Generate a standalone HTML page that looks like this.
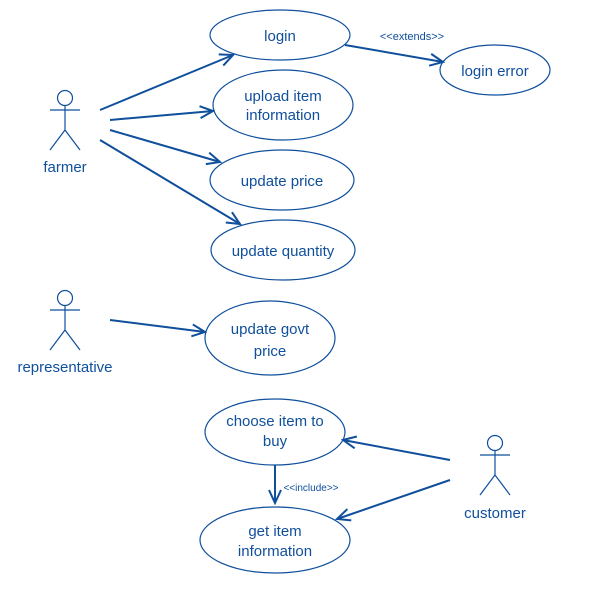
<!DOCTYPE html>
<html><head><meta charset="utf-8"><style>body{margin:0;background:#fff}svg{display:block}</style></head><body>
<svg width="591" height="591" xmlns="http://www.w3.org/2000/svg" font-family="Liberation Sans, sans-serif" fill="none" stroke="#0f4f9c">
<defs><marker id="a" markerWidth="16" markerHeight="14" refX="14" refY="7" orient="auto" markerUnits="userSpaceOnUse"><path d="M1,1 L14,7 L1,13" stroke="#0f4f9c" stroke-width="2" fill="none"/></marker></defs>
<g stroke-width="1.2">
<ellipse cx="280" cy="35" rx="70" ry="25"/>
<ellipse cx="495" cy="70" rx="55" ry="25"/>
<ellipse cx="283" cy="105" rx="70" ry="35"/>
<ellipse cx="282" cy="180" rx="72" ry="30"/>
<ellipse cx="283" cy="250" rx="72" ry="30"/>
<ellipse cx="270" cy="338" rx="65" ry="37"/>
<ellipse cx="275" cy="432" rx="70" ry="33"/>
<ellipse cx="275" cy="540" rx="75" ry="33"/>
</g>
<g stroke-width="1.2">
<circle cx="65" cy="98" r="7.5"/><path d="M65,106V130M50,110H80M50,150L65,130L80,150"/>
<circle cx="65" cy="298" r="7.5"/><path d="M65,306V330M50,310H80M50,350L65,330L80,350"/>
<circle cx="495" cy="443" r="7.5"/><path d="M495,451V475M480,455H510M480,495L495,475L510,495"/>
</g>
<g stroke-width="2" marker-end="url(#a)">
<path d="M100,110L233,55"/>
<path d="M110,120L213,111"/>
<path d="M110,130L220,162"/>
<path d="M100,140L240,224"/>
<path d="M110,320L205,332"/>
<path d="M450,460L343,440"/>
<path d="M450,480L337,519"/>
<path d="M275,465L275,503"/>
<path d="M345,45L443,62"/>
</g>
<g fill="#0f4f9c" stroke="none" font-size="15" text-anchor="middle">
<text x="280" y="41">login</text>
<text x="495" y="76">login error</text>
<text x="283" y="101">upload item</text><text x="283" y="120">information</text>
<text x="282" y="186">update price</text>
<text x="283" y="256">update quantity</text>
<text x="270" y="334">update govt</text><text x="270" y="356">price</text>
<text x="275" y="426">choose item to</text><text x="275" y="446">buy</text>
<text x="275" y="536">get item</text><text x="275" y="556">information</text>
<text x="65" y="172">farmer</text>
<text x="65" y="372">representative</text>
<text x="495" y="518">customer</text>
<text x="412" y="40" font-size="11">&lt;&lt;extends&gt;&gt;</text>
<text x="311" y="491" font-size="10">&lt;&lt;include&gt;&gt;</text>
</g>
</svg>
</body></html>
